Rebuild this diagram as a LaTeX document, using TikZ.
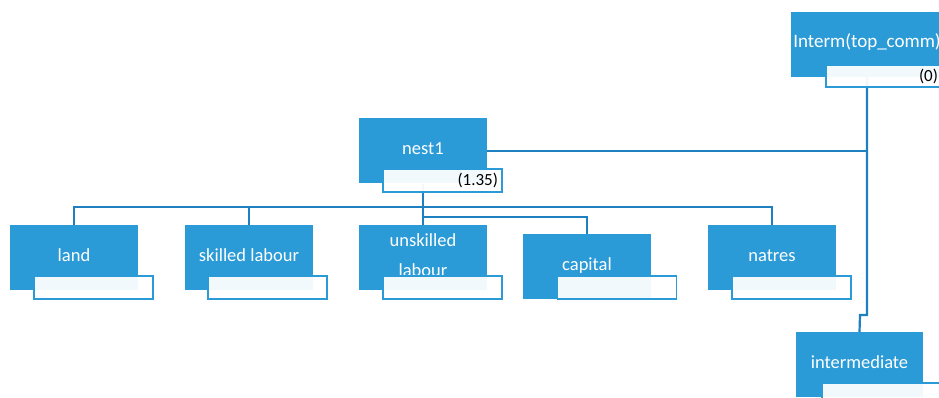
\documentclass[tikz,border=0pt]{standalone}
\usepackage{fontspec}
\setmainfont{Carlito}
\definecolor{tileblue}{RGB}{43,155,215}
\definecolor{linkblue}{RGB}{30,128,190}
\pgfdeclarelayer{bg}
\pgfsetlayers{bg,main}
\begin{document}
\begin{tikzpicture}[x=1pt,y=-1pt,
  blk/.style={draw=none, fill=tileblue, minimum width=128pt, minimum height=65pt,
    inner sep=0pt, text=white, font=\fontsize{18.5}{30}\selectfont,
    text height=19pt, text depth=12pt, align=center},
  tag/.style={draw=tileblue, line width=1.8pt, fill=white, fill opacity=0.94,
    text opacity=1, minimum height=23pt, text width=111pt, inner xsep=4pt,
    inner ysep=0pt, align=right, font=\fontsize{17}{20}\selectfont, text=black},
  link/.style={draw=linkblue, line width=2.2pt}
]
\clip (0,0) rectangle (939,398);

% commodity tree: boxes with their value tags
\node[blk, minimum width=152pt, font=\fontsize{19}{30}\selectfont] (interm) at (867,44.5) {Interm(top\_comm)};
\node[tag, minimum height=22pt, text width=108pt] (intermtag) at (884,76) {(0)};

\node[blk] (nest1) at (423,151) {nest1};
\node[tag] (nesttag) at (442.5,180.5) {(1.35)};

\node[blk] (land) at (74,257.5) {land};
\node[tag] (landtag) at (93.5,287.5) {};

\node[blk] (skilled) at (249,257.5) {skilled labour};
\node[tag] (skilledtag) at (267.5,287.5) {};

\node[blk, text height=49pt] (unskilled) at (423,257.5) {unskilled\\labour};
\node[tag] (unskilledtag) at (442.5,287.5) {};

\node[blk] (capital) at (587,266.5) {capital};
\node[tag] (capitaltag) at (617,287.5) {};

\node[blk] (natres) at (772,257.5) {natres};
\node[tag] (natrestag) at (791.5,287.5) {};

\node[blk, minimum width=127pt] (intermediate) at (859.5,364.5) {intermediate};
\node[tag] (intermediatetag) at (881.5,394.5) {};

% connectors behind the boxes
\coordinate (jog) at (860,315);
\coordinate (bus) at (0,207);
\coordinate (capbus) at (0,217);
\begin{pgfonlayer}{bg}
  \draw[link] (interm.south) |- (jog) -- (intermediate.north);
  \draw[link] (nest1.east) -- (nest1.east -| interm.south);
  \draw[link] (nest1.south) -- (unskilled.north);
  \draw[link] (land.north) |- (bus -| natres.north) -- (natres.north);
  \draw[link] (skilled.north) -- (skilled.north |- bus);
  \draw[link] (nest1.south |- capbus) -| (capital.north);
\end{pgfonlayer}
\end{tikzpicture}
\end{document}
